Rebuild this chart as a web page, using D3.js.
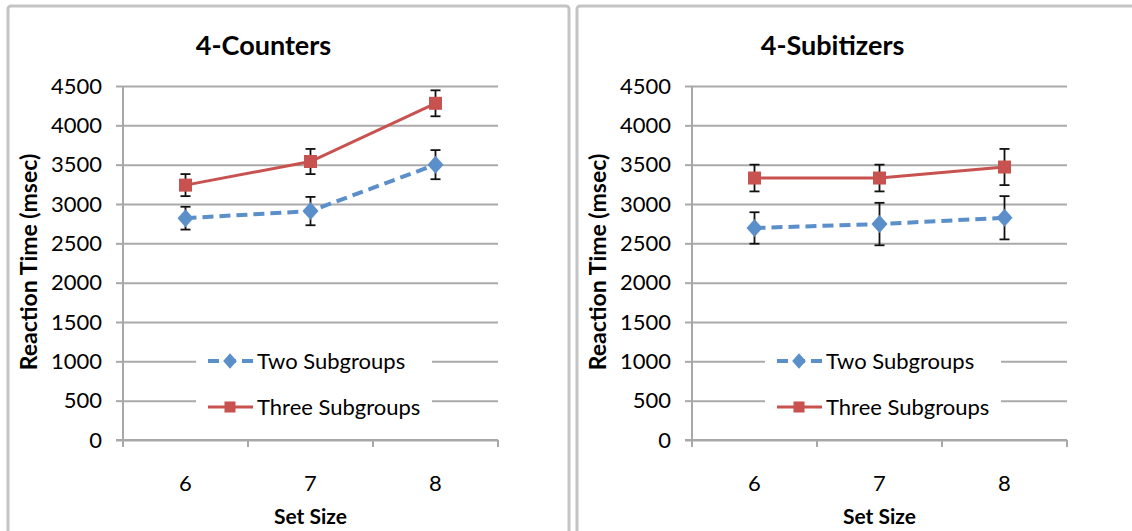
<!DOCTYPE html>
<html>
<head>
<meta charset="utf-8">
<script src="https://cdn.jsdelivr.net/npm/d3@7"></script>
<style>
  body { margin: 0; background: #fff; }
  text { font-family: Lato, "Open Sans", sans-serif; fill: #000; }
</style>
</head>
<body>
<div id="chart"></div>
<script>
// data
var setSizes = ["6", "7", "8"];
var seriesNames = ["Two Subgroups", "Three Subgroups"];
var yTicks = [0, 500, 1000, 1500, 2000, 2500, 3000, 3500, 4000, 4500];

var counterTwo = [2820, 2910, 3500];
var counterTwoErr = [145, 180, 185];
var counterThree = [3240, 3540, 4280];
var counterThreeErr = [140, 160, 165];

var subitTwo = [2695, 2745, 2825];
var subitTwoErr = [200, 270, 275];
var subitThree = [3330, 3330, 3470];
var subitThreeErr = [170, 170, 230];

var blue = "#5b8fca", red = "#c8524f";

// rhombus marker, a bit taller than wide like the Excel one
var diamond = "M0,-9L8,0L0,9L-8,0Z";
var square = "M-6.5,-6.5H6.5V6.5H-6.5Z";

var svg = d3.select("#chart").append("svg")
    .attr("width", 1132)
    .attr("height", 531);

function drawPanel(px, panelW, title, two, twoErr, three, threeErr) {
    var g = svg.append("g").attr("transform", "translate(" + px + ",0)");

    g.append("rect")
        .attr("x", 0).attr("y", 6)
        .attr("width", panelW).attr("height", 540)
        .attr("rx", 3)
        .style("fill", "#fff")
        .style("stroke", "#c4c4c4")
        .style("stroke-width", 3);

    var x0 = 115, x1 = 490;
    var x = d3.scalePoint().domain(setSizes).range([x0, x1]).padding(0.5);
    var y = d3.scaleLinear().domain([0, 4500]).range([440, 86]);
    var step = x.step();

    // gridlines
    g.append("g")
        .attr("transform", "translate(" + x0 + ",0)")
        .call(d3.axisLeft(y).tickValues(yTicks).tickSize(-(x1 - x0)).tickFormat(""))
        .call(function (a) {
            a.select(".domain").remove();
            a.selectAll("line").style("stroke", "#aaaaaa").style("stroke-width", 2);
        });

    // y axis
    g.append("g")
        .attr("transform", "translate(" + x0 + ",0)")
        .call(d3.axisLeft(y).tickValues(yTicks).tickSize(7).tickPadding(14).tickFormat(d3.format("d")))
        .call(function (a) {
            a.select(".domain").style("stroke", "#a8a8a8").style("stroke-width", 2)
                .attr("d", "M0," + y(4500) + "V" + (y(0) + 1));
            a.selectAll("line").style("stroke", "#a8a8a8").style("stroke-width", 2);
            a.selectAll("text").style("font-size", "22px").style("font-family", "Lato, sans-serif");
        });

    // x axis line + ticks between categories
    var bounds = [x0].concat(setSizes.map(function (d) { return x(d) + step / 2; }));
    g.append("line")
        .attr("x1", x0 - 7).attr("x2", x1)
        .attr("y1", y(0)).attr("y2", y(0))
        .style("stroke", "#a8a8a8").style("stroke-width", 2);
    g.selectAll(".xtick").data(bounds).enter().append("line")
        .attr("x1", function (d) { return d; }).attr("x2", function (d) { return d; })
        .attr("y1", y(0)).attr("y2", y(0) + 7)
        .style("stroke", "#a8a8a8").style("stroke-width", 2);
    g.selectAll(".xlab").data(setSizes).enter().append("text")
        .attr("x", function (d) { return x(d); })
        .attr("y", 491)
        .attr("text-anchor", "middle")
        .style("font-size", "22px")
        .text(function (d) { return d; });

    // titles
    g.append("text")
        .attr("x", (x0 + x1) / 2 - 47)
        .attr("y", 55)
        .attr("text-anchor", "middle")
        .style("font-size", "27px").style("font-weight", "bold")
        .text(title);
    g.append("text")
        .attr("x", (x0 + x1) / 2)
        .attr("y", 524)
        .attr("text-anchor", "middle")
        .style("font-size", "21px").style("font-weight", "bold")
        .text("Set Size");
    g.append("text")
        .attr("transform", "translate(29," + 262 + ") rotate(-90)")
        .attr("text-anchor", "middle")
        .style("font-size", "23px").style("font-weight", "bold")
        .text("Reaction Time (msec)");

    // legend (white box over gridlines)
    var lx = x0 + 73;
    g.append("rect")
        .attr("x", lx).attr("y", 340)
        .attr("width", 236).attr("height", 80)
        .style("fill", "#fff");

    var series = [
        {name: seriesNames[0], vals: two, err: twoErr, color: blue, dash: "11,6", shape: diamond, w: 4},
        {name: seriesNames[1], vals: three, err: threeErr, color: red, dash: null, shape: square, w: 3}
    ];

    series.forEach(function (s, i) {
        var ly = 361 + i * 46;
        g.append("line")
            .attr("x1", lx + 12).attr("x2", lx + 57)
            .attr("y1", ly).attr("y2", ly)
            .style("stroke", s.color).style("stroke-width", s.w)
            .style("stroke-dasharray", s.dash);
        g.append("path")
            .attr("d", s.shape)
            .attr("transform", "translate(" + (lx + 34) + "," + ly + ") scale(0.85)")
            .style("fill", s.color);
        g.append("text")
            .attr("x", lx + 61).attr("y", ly + 8)
            .style("font-size", "22px")
            .text(s.name);
    });

    // lines, error bars, markers
    series.forEach(function (s) {
        var pts = setSizes.map(function (c, i) { return {c: c, v: s.vals[i], e: s.err[i]}; });
        g.append("path")
            .datum(pts)
            .attr("d", d3.line().x(function (d) { return x(d.c); }).y(function (d) { return y(d.v); }))
            .style("fill", "none")
            .style("stroke", s.color)
            .style("stroke-width", s.w)
            .style("stroke-dasharray", s.dash);

        var eb = g.append("g").selectAll("g").data(pts).enter().append("g");
        eb.append("line")
            .attr("x1", function (d) { return x(d.c); }).attr("x2", function (d) { return x(d.c); })
            .attr("y1", function (d) { return y(d.v + d.e); }).attr("y2", function (d) { return y(d.v - d.e); })
            .style("stroke", "#111").style("stroke-width", 1.8);
        [1, -1].forEach(function (sg) {
            eb.append("line")
                .attr("x1", function (d) { return x(d.c) - 5; }).attr("x2", function (d) { return x(d.c) + 5; })
                .attr("y1", function (d) { return y(d.v + sg * d.e); }).attr("y2", function (d) { return y(d.v + sg * d.e); })
                .style("stroke", "#111").style("stroke-width", 1.8);
        });

        g.append("g").selectAll("path").data(pts).enter().append("path")
            .attr("d", s.shape)
            .attr("transform", function (d) { return "translate(" + x(d.c) + "," + y(d.v) + ")"; })
            .style("fill", s.color);
    });
}

drawPanel(8, 561, "4-Counters", counterTwo, counterTwoErr, counterThree, counterThreeErr);
drawPanel(577, 580, "4-Subitizers", subitTwo, subitTwoErr, subitThree, subitThreeErr);
</script>
</body>
</html>
